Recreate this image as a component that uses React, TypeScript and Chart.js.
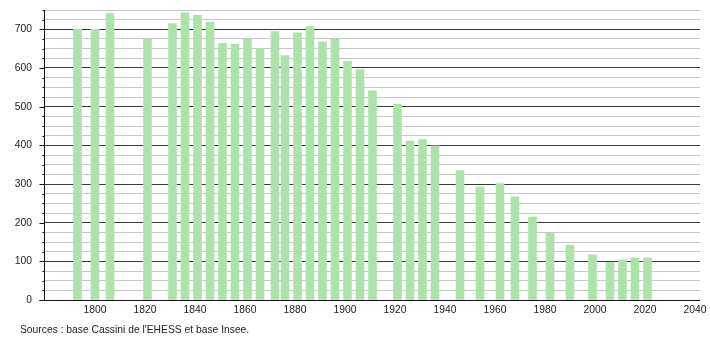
import React, { useEffect, useRef } from "react";
import { Chart, registerables } from "chart.js";

Chart.register(...registerables);

const years = [1793, 1800, 1806, 1821, 1831, 1836, 1841, 1846, 1851, 1856, 1861, 1866, 1872, 1876, 1881, 1886, 1891, 1896, 1901, 1906, 1911, 1921, 1926, 1931, 1936, 1946, 1954, 1962, 1968, 1975, 1982, 1990, 1999, 2006, 2011, 2016, 2021];
const population = [700, 700, 741, 675, 715, 743, 736, 719, 664, 661, 674, 650, 694, 632, 691, 707, 668, 675, 617, 596, 541, 507, 411, 415, 399, 335, 293, 301, 267, 215, 173, 142, 117, 97, 104, 109, 109];
const xTickLabels = [1800, 1820, 1840, 1860, 1880, 1900, 1920, 1940, 1960, 1980, 2000, 2020, 2040];
const yMajorStep = 100;
const yMinorStep = 25;
const sourceText = "Sources : base Cassini de l'EHESS et base Insee.";

const FONT = "'Liberation Sans', Arial, sans-serif";
const FONT_SIZE = 10.3;

const axisPlugin = {
  id: "axisDecor",
  afterDatasetsDraw(chart: any) {
    const { ctx, chartArea, scales } = chart;
    const y = scales.y;
    const left = Math.round(chartArea.left) + 0.5;
    const bottom = Math.round(chartArea.bottom) + 0.5;
    ctx.save();
    ctx.strokeStyle = "#111";
    ctx.lineWidth = 1;
    ctx.beginPath();
    ctx.moveTo(left, Math.round(chartArea.top));
    ctx.lineTo(left, bottom);
    ctx.moveTo(left - 5, bottom);
    ctx.lineTo(Math.round(chartArea.right), bottom);
    for (let v = 0; v <= y.max + 0.001; v += yMinorStep) {
      const py = Math.round(y.getPixelForValue(v)) + 0.5;
      const len = v % yMajorStep === 0 ? 5 : 2;
      ctx.moveTo(left - len, py);
      ctx.lineTo(left, py);
    }
    ctx.stroke();
    ctx.restore();
  },
};

export default function App() {
  const canvasRef = useRef<HTMLCanvasElement | null>(null);

  useEffect(() => {
    const canvas = canvasRef.current;
    if (!canvas) return;
    const chart = new Chart(canvas, {
      type: "bar",
      data: {
        datasets: [
          {
            data: years.map((yr, i) => ({ x: yr, y: population[i] })),
            backgroundColor: "#ade2ab",
            borderWidth: 0,
            barThickness: 8,
          },
        ],
      },
      options: {
        responsive: false,
        animation: false,
        events: [],
        layout: { padding: { left: 0, right: 10, top: 10, bottom: 0 } },
        plugins: {
          legend: { display: false },
          tooltip: { enabled: false },
          title: { display: false },
        },
        scales: {
          x: {
            type: "linear",
            min: 1779.6,
            max: 2042,
            offset: false,
            grid: { display: false, drawTicks: false },
            border: { display: false },
            afterBuildTicks: (scale: any) => {
              scale.ticks = xTickLabels.map((v) => ({ value: v }));
            },
            afterFit: (scale: any) => {
              scale.height = 40;
              scale.paddingLeft = 0;
              scale.paddingRight = 0;
              scale.paddingTop = 0;
              scale.paddingBottom = 0;
            },
            ticks: {
              autoSkip: false,
              maxRotation: 0,
              padding: 4,
              color: "#222",
              font: { family: FONT, size: FONT_SIZE },
              callback: (v: any) => String(v),
            },
          },
          y: {
            min: 0,
            max: 750,
            grid: {
              drawTicks: false,
              color: (c: any) =>
                c.tick && c.tick.value % yMajorStep === 0 ? "#3a3a3a" : "#c8c8c8",
              lineWidth: 1,
            },
            border: { display: false },
            afterFit: (scale: any) => {
              scale.width = 44;
              scale.paddingLeft = 0;
              scale.paddingRight = 0;
              scale.paddingTop = 0;
              scale.paddingBottom = 0;
            },
            ticks: {
              stepSize: yMinorStep,
              autoSkip: false,
              padding: 12,
              color: "#222",
              font: { family: FONT, size: FONT_SIZE },
              callback: (v: any) => (Number(v) % yMajorStep === 0 ? String(v) : ""),
            },
          },
        },
      },
      plugins: [axisPlugin],
    } as any);
    return () => chart.destroy();
  }, []);

  return (
    <div style={{ position: "fixed", left: 0, top: 0, width: 710, height: 340, background: "#fff" }}>
      <canvas ref={canvasRef} width={710} height={340} style={{ display: "block" }} />
      <div
        style={{
          position: "absolute",
          left: 20,
          top: 323,
          fontFamily: FONT,
          fontSize: FONT_SIZE,
          lineHeight: "13px",
          color: "#222",
          whiteSpace: "nowrap",
        }}
      >
        {sourceText}
      </div>
    </div>
  );
}
